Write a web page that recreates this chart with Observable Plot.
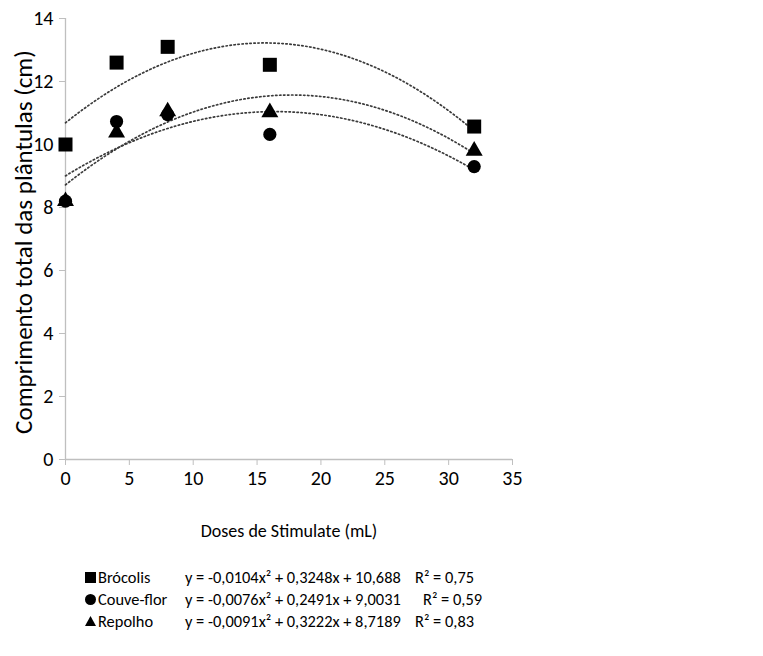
<!DOCTYPE html>
<html><head><meta charset="utf-8">
<script src="https://cdn.jsdelivr.net/npm/d3@7"></script>
<script src="https://cdn.jsdelivr.net/npm/@observablehq/plot@0.6"></script>
<style>
body{margin:0;background:#fff;font-family:Carlito,Lato,"Open Sans",sans-serif;}
#wrap{position:relative;width:763px;height:656px;}
.row{position:absolute;font-size:16.4px;color:#000;white-space:nowrap;line-height:20px;}
.mk{position:absolute;background:#000;}
</style></head><body><div id="wrap"></div>
<script>
const doses = [0, 4, 8, 16, 32];
const brocolis = [10.0, 12.6, 13.1, 12.53, 10.57];
const couveFlor = [8.2, 10.73, 10.95, 10.32, 9.3];
const repolho = [8.2, 10.38, 11.05, 11.02, 9.8];
const seriesNames = ["Brócolis", "Couve-flor", "Repolho"];
const coefs = [[-0.0104, 0.3248, 10.688], [-0.0076, 0.2491, 9.0031], [-0.0091, 0.3222, 8.7189]];
const equations = ["y = -0,0104x² + 0,3248x + 10,688", "y = -0,0076x² + 0,2491x + 9,0031", "y = -0,0091x² + 0,3222x + 8,7189"];
const r2 = ["R² = 0,75", "R² = 0,59", "R² = 0,83"];
const xTicks = [0, 5, 10, 15, 20, 25, 30, 35];
const yTicks = [0, 2, 4, 6, 8, 10, 12, 14];
const xLabel = "Doses de Stimulate (mL)";
const yLabel = "Comprimento total das plântulas (cm)";

const values = [brocolis, couveFlor, repolho];
const pts = values.map((v, i) => doses.map((d, j) => ({x: d, y: v[j], s: seriesNames[i]})));
const xs = d3.range(0, 32.01, 0.25);
const trends = coefs.map((c, i) => xs.map(x => ({x, y: c[0]*x*x + c[1]*x + c[2], s: seriesNames[i]})));
const font = "Carlito, Lato, 'Open Sans', sans-serif";

const chart = Plot.plot({
  width: 763, height: 545,
  marginLeft: 65, marginRight: 251, marginTop: 18, marginBottom: 86,
  style: {fontFamily: font, color: "#000", background: "#fff"},
  x: {domain: [0, 35]},
  y: {domain: [0, 14]},
  marks: [
    Plot.axisX({ticks: xTicks, tickSize: 6, tickPadding: 5, stroke: "#bfbfbf", fill: "#000", label: null}),
    Plot.axisY({ticks: yTicks, tickSize: 6, tickPadding: 6, stroke: "#bfbfbf", fill: "#000", label: null}),
    Plot.ruleY([0], {stroke: "#bfbfbf", strokeWidth: 1.3}),
    Plot.ruleX([0], {stroke: "#bfbfbf", strokeWidth: 1.3}),
    Plot.text([xLabel], {frameAnchor: "bottom", dy: 77, fontSize: 18, fill: "#000"}),
    Plot.text([yLabel], {frameAnchor: "left", textAnchor: "middle", dx: -42, dy: 3, rotate: -90, fontSize: 25, fill: "#000"}),
    ...trends.map(t => Plot.line(t, {x: "x", y: "y", stroke: "#3a3a3a", strokeWidth: 1.7, strokeDasharray: "1.4,2.6", strokeLinecap: "round"})),
    Plot.dot(pts[0], {x: "x", y: "y", symbol: "square", r: 7.9, fill: "#000", stroke: "none"}),
    Plot.dot(pts[1], {x: "x", y: "y", symbol: "circle", r: 6.6, fill: "#000", stroke: "none"}),
    Plot.dot(pts[2], {x: "x", y: "y", symbol: "triangle", r: 6.3, fill: "#000", stroke: "none"})
  ]
});
chart.style.position = "absolute"; chart.style.left = "0"; chart.style.top = "0";
const wrap = document.getElementById("wrap");
wrap.appendChild(chart);
const tickStrings = new Set([...xTicks, ...yTicks].map(String));
chart.querySelectorAll("text").forEach(t => {
  if (tickStrings.has(t.textContent.trim())) t.style.fontSize = "20px";
});

const r2Left = [415, 423, 415];
const shapes = [
  {w: 11, h: 11, css: ""},
  {w: 11, h: 11, css: "border-radius:50%"},
  {w: 11, h: 10, css: "clip-path:polygon(50% 0,100% 100%,0 100%)"}
];
seriesNames.forEach((n, i) => {
  const top = 567 + i * 22;
  const add = (txt, left) => { const s = document.createElement("span"); s.className = "row"; s.textContent = txt; s.style.left = left + "px"; s.style.top = top + "px"; wrap.appendChild(s); };
  const m = document.createElement("div");
  m.className = "mk";
  m.style.cssText += `left:85px;top:${top + 10 - shapes[i].h / 2}px;width:${shapes[i].w}px;height:${shapes[i].h}px;${shapes[i].css}`;
  wrap.appendChild(m);
  add(n, 98);
  add(equations[i], 185);
  add(r2[i], r2Left[i]);
});
</script></body></html>
